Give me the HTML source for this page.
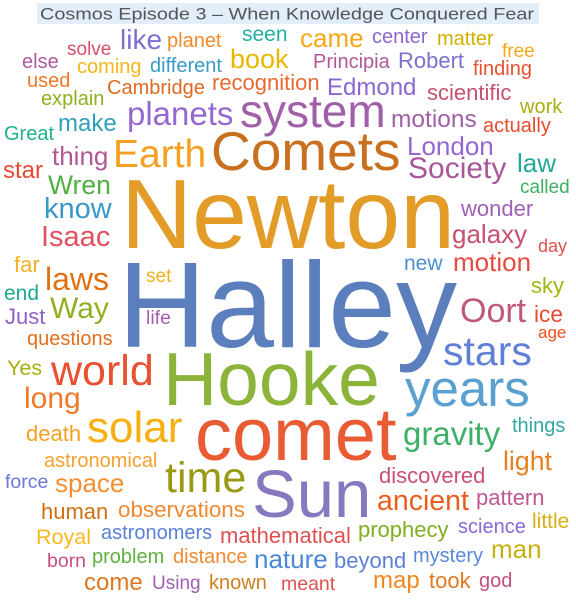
<!DOCTYPE html>
<html><head><meta charset="utf-8"><style>
html,body{margin:0;padding:0;background:#fff;}
svg{display:block;font-family:"Liberation Sans",Arial,sans-serif;}
</style></head><body>
<svg id="cloud" width="576" height="601" viewBox="0 0 576 601">
<rect x="37" y="3" width="502" height="21" fill="#e3eefb"/>
<text x="40" y="19.5" font-size="17" fill="#555" textLength="494" lengthAdjust="spacingAndGlyphs">Cosmos Episode 3 – When Knowledge Conquered Fear</text>
<g id="words"></g>
</svg>
<script>
const words = ["Halley","Newton","Hooke","comet","Sun","Comets","years","system","stars","world","solar","time","Earth","Oort","gravity","planets","laws","Society","long","Way","know","Isaac","ancient","like","Wren","book","came","London","thing","light","space","galaxy","motion","man","make","law","motions","nature","star","Edmond","come","map","far","questions","wonder","observations","recognition","human","mathematical","discovered","pattern","beyond","prophecy","Royal","death","Robert","scientific","took","sky","ice","Just","end","Yes","Cambridge","seen","new","little","explain","astronomical","free","else","solve","planet","coming","different","used","Principia","center","matter","finding","work","actually","called","Great","set","life","day","age","force","astronomers","born","problem","distance","Using","known","meant","things","science","mystery","god"];
const weights = [122,98.5,75,74,67,55,51,46,41,43,44,43,39,34,33,33,32,30,30,30,29,29,28.5,28,26.5,27,26,26,26,26.7,26,26,26,26,24,26,24.5,26,24,24,24,24,22,20,22,22.4,22,22,22,22,22,22,22,21.5,22,22,22,22,22,22.7,22,21,21.5,20,21,21,21,20,20,19,20,19,20,20,20,20,20,20,20,20,20,20,19,20,19,19.5,18,17,19.5,20,19.5,20,20,19,20,19.5,20,20,20,20];
const colors = ["#5b7fbd","#e39c28","#8db43a","#e95c33","#8878bf","#c8701e","#5aa0d0","#a060a8","#6080d8","#e85030","#f8b010","#9a9a12","#f5a020","#c05878","#40b068","#9468d0","#e07010","#a85898","#f07a28","#90b020","#3898c8","#e05060","#e86020","#7b6fd6","#50b040","#e8b800","#f5a818","#9468d0","#b05898","#e88020","#f59030","#c85070","#e84a40","#c8b010","#30a0b8","#20a898","#a060a8","#4a88d8","#e84a30","#8a68d0","#e07820","#f08820","#f5b020","#e07020","#a060b8","#f08a30","#e86a30","#d07010","#e05050","#c85078","#c05890","#6080d8","#80b020","#f8b820","#f5a020","#7a70d0","#c85070","#e07820","#a0b810","#e84a30","#9060c8","#20a890","#a8b010","#e06a20","#20b0a0","#4a90d0","#d8b010","#90b020","#f5a030","#f5a818","#b058a0","#d9506a","#f58a2a","#f0b818","#3a9ac8","#f07a28","#b05898","#8a68d0","#d0b000","#e85030","#a8b010","#e84a30","#40b060","#20b090","#f5b020","#a060b0","#e05050","#f05020","#6a78d8","#5a80d8","#c85080","#60b040","#f08a30","#a060b0","#d08020","#e05050","#30a8a8","#8a68d8","#5a88d8","#c05080"];
// layout (left x, baseline y) for each word
const layoutX = [118,121,163,195,252,211,405,240,443,51,87,165,113,460,403,127,45,408,24,50,44,41,377,120,48,230,300,407,52,503,55,452,453,491,58,517,391,254,3,327,84,373,14,27,461,118,212,41,220,379,476,334,358,36,26,398,427,429,531,534,5,4,7,107,242,404,532,41,44,502,22,67,167,77,150,27,313,372,437,473,520,483,520,4,146,146,538,538,5,101,47,92,173,152,209,281,512,458,413,479];
const layoutY = [347,248,405,460,517,170,406,127,365,385,442,492,167,322,445,125,290,178,408,318,218,246,510,49,194,68,47,155,165,470,492,243,271,558,131,172,127,568,178,95,590,588,272,345,216,517,90,519,543,483,505,568,537,544,441,68,100,588,293,322,324,300,375,94,41,270,528,105,467,57,68,55,47,73,72,87,68,43,45,75,113,132,193,140,282,324,252,338,488,539,567,563,563,589,589,590,432,533,562,587];
const g = document.getElementById('words');
const NS = "http://www.w3.org/2000/svg";
for (let i = 0; i < words.length; i++) {
  const t = document.createElementNS(NS, 'text');
  t.setAttribute('x', layoutX[i]);
  t.setAttribute('y', layoutY[i]);
  t.setAttribute('font-size', weights[i]);
  t.setAttribute('fill', colors[i]);
  t.textContent = words[i];
  
  
  g.appendChild(t);
}
</script>
</body></html>
